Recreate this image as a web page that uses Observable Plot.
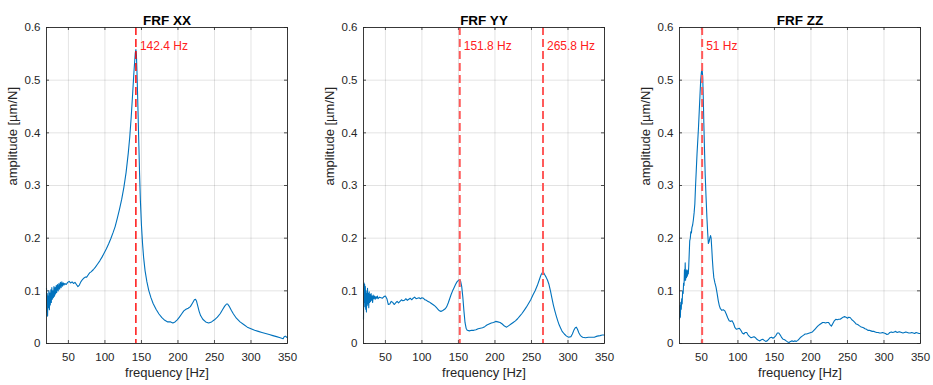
<!DOCTYPE html>
<html><head><meta charset="utf-8">
<script src="https://cdn.jsdelivr.net/npm/d3@7"></script>
<script src="https://cdn.jsdelivr.net/npm/@observablehq/plot@0.6"></script>
<style>
body{margin:0;background:#fff}
#wrap{position:relative;width:933px;height:385px;overflow:hidden}
#wrap svg{position:absolute;top:0}
</style>
</head><body><div id="wrap"></div>
<script>
// ---- data ----
const titles = ["FRF XX", "FRF YY", "FRF ZZ"];
const xTicks = [50, 100, 150, 200, 250, 300, 350];
const yTicks = [0, 0.1, 0.2, 0.3, 0.4, 0.5, 0.6];
const xLabel = "frequency [Hz]";
const yLabel = "amplitude [µm/N]";

const xxPeaks = [142.4];
const yyPeaks = [151.8, 265.8];
const zzPeaks = [51];

const xxFreq = [20,20.5,21,21.5,22,22.7,23.3,24,24.6,25.2,26,26.6,27.3,28,28.7,29.4,30.2,31,31.8,32.5,33.3,34,35,36,37,38,39,40,41,42,43,44,45,47,49,51,53,55,57,59,61,63,65,67,69,71,73,75,77,79,81,84,87,90,93,96,99,102,105,108,111,114,117,120,123,126,129,132,134,136,138,139.5,140.7,141.6,142.4,143.1,143.8,144.6,145.5,146.5,147.5,148.6,150,151.5,153,155,157.5,160,163,166,170,174,178,182,186,190,193,196,199,202,205,208,211,214,217,220,222.5,224,225.5,227,229,231,234,238,242,246,250,254,258,261,264,266.5,268,270,273,276,280,285,290,295,300,305,310,315,320,325,330,335,340,344,345.5,347,349,350];
const xxAmp = [0.105,0.06,0.095,0.052,0.09,0.068,0.1,0.064,0.096,0.073,0.102,0.078,0.106,0.084,0.1,0.087,0.108,0.09,0.106,0.094,0.11,0.097,0.112,0.1,0.114,0.103,0.116,0.106,0.117,0.109,0.115,0.111,0.114,0.112,0.116,0.118,0.115,0.117,0.114,0.116,0.112,0.108,0.111,0.117,0.121,0.124,0.126,0.126,0.13,0.134,0.136,0.14,0.145,0.151,0.157,0.164,0.172,0.18,0.189,0.199,0.21,0.222,0.238,0.255,0.274,0.297,0.325,0.362,0.392,0.43,0.475,0.51,0.535,0.552,0.558,0.548,0.52,0.48,0.43,0.375,0.32,0.27,0.225,0.19,0.163,0.138,0.117,0.101,0.087,0.076,0.065,0.056,0.049,0.044,0.041,0.041,0.039,0.041,0.045,0.05,0.056,0.062,0.065,0.067,0.07,0.077,0.083,0.084,0.08,0.072,0.061,0.053,0.046,0.041,0.039,0.041,0.045,0.05,0.057,0.064,0.071,0.075,0.075,0.071,0.063,0.056,0.048,0.041,0.036,0.031,0.028,0.025,0.023,0.021,0.019,0.017,0.015,0.013,0.011,0.009,0.013,0.014,0.012,0.011];

const yyFreq = [20,20.4,20.8,21.2,21.6,22,22.5,23,23.5,24,24.5,25,25.5,26,26.6,27.2,27.8,28.4,29,29.7,30.4,31.1,31.8,32.5,33.3,34,35,36,37,38,39,40,42,44,46,48,50,52,54,56,58,60,62,64,66,68,70,72,74,76,78,80,82,84,86,88,90,92,94,96,98,100,102,104,106,108,110,112,114,116,118,120,122,124,126,128,130,132,134,136,138,140,142,144,146,148,150,151.8,153,154.5,156,157.5,159,160.5,162,165,168,171,174,177,180,183,186,189,192,195,198,201,204,207,210,213,216,219,222,225,228,231,234,237,240,243,246,249,252,255,258,261,263,265,266.5,268,270,272,274,276,278,280,282,284,286,288,290,292,295,298,301,304,306,308,310,311.5,313,315,317,320,324,328,332,336,340,344,347,350];
const yyAmp = [0.046,0.1,0.115,0.078,0.112,0.07,0.108,0.065,0.1,0.06,0.095,0.072,0.105,0.075,0.095,0.068,0.098,0.078,0.093,0.08,0.095,0.082,0.09,0.078,0.092,0.085,0.09,0.084,0.089,0.086,0.09,0.085,0.088,0.087,0.086,0.089,0.09,0.085,0.074,0.075,0.08,0.078,0.074,0.077,0.08,0.077,0.08,0.083,0.081,0.082,0.085,0.082,0.084,0.086,0.083,0.086,0.088,0.085,0.086,0.087,0.085,0.087,0.086,0.083,0.082,0.08,0.079,0.077,0.075,0.073,0.071,0.068,0.065,0.062,0.061,0.062,0.064,0.066,0.07,0.077,0.085,0.093,0.1,0.106,0.112,0.117,0.12,0.121,0.118,0.108,0.088,0.062,0.04,0.029,0.025,0.024,0.025,0.025,0.026,0.028,0.029,0.03,0.032,0.035,0.037,0.039,0.04,0.042,0.041,0.04,0.037,0.033,0.031,0.034,0.037,0.04,0.043,0.047,0.052,0.057,0.063,0.069,0.076,0.083,0.092,0.1,0.11,0.122,0.13,0.135,0.135,0.131,0.126,0.12,0.112,0.1,0.086,0.073,0.062,0.052,0.043,0.035,0.029,0.023,0.018,0.014,0.012,0.013,0.018,0.025,0.03,0.031,0.027,0.02,0.015,0.012,0.011,0.012,0.012,0.012,0.014,0.015,0.016,0.016];

const zzFreq = [20,20.6,21.2,21.8,22.4,23,23.6,24.3,25,25.6,26.2,26.8,27.3,27.8,28.3,28.9,29.5,30.1,30.7,31.4,32,32.6,33.3,34,34.8,35.5,36.3,37,38,39,40,41,42,43,44,45,46,47,48,49,50,51,51.8,52.5,53.3,54.2,55.2,56.3,57.5,58.6,59.5,60.5,61.5,62.5,63.3,64.2,65,66,67,68.5,70,71.5,73,74.5,76,78,80,82,84,86,88,90,92,94,96,98,100,102,104,106,108,110,112,114,116,118,120,122,124,126,128,130,132,134,136,138,140,142,144,146,148,150,152,154,156,158,160,162,164,166,168,170,172,174,176,178,180,182,184,186,188,190,192,194,196,198,200,202,204,206,208,210,212,214,216,218,220,222,224,226,228,230,232,234,236,238,240,242,244,246,248,250,252,254,256,258,260,262,264,266,268,270,272,274,276,278,280,282,284,286,288,290,292,294,296,298,300,302,304,306,308,310,312,314,316,318,320,322,324,326,328,330,332,334,336,338,340,342,344,346,348,350];
const zzAmp = [0.046,0.072,0.05,0.078,0.065,0.085,0.075,0.1,0.095,0.115,0.11,0.14,0.12,0.153,0.12,0.138,0.125,0.14,0.128,0.138,0.132,0.145,0.17,0.195,0.2,0.212,0.21,0.22,0.225,0.235,0.248,0.265,0.3,0.33,0.36,0.385,0.41,0.44,0.47,0.5,0.515,0.52,0.505,0.47,0.42,0.37,0.32,0.28,0.24,0.21,0.19,0.193,0.2,0.205,0.2,0.18,0.16,0.14,0.125,0.115,0.107,0.095,0.082,0.072,0.066,0.063,0.064,0.062,0.056,0.049,0.043,0.042,0.043,0.038,0.03,0.027,0.028,0.029,0.025,0.02,0.018,0.021,0.021,0.016,0.013,0.011,0.012,0.013,0.011,0.008,0.006,0.005,0.007,0.008,0.006,0.004,0.005,0.008,0.011,0.012,0.01,0.012,0.015,0.02,0.02,0.016,0.011,0.008,0.007,0.005,0.003,0.002,0.004,0.005,0.004,0.005,0.004,0.006,0.009,0.012,0.014,0.016,0.018,0.018,0.019,0.02,0.021,0.022,0.025,0.028,0.031,0.034,0.036,0.038,0.04,0.04,0.039,0.04,0.04,0.036,0.033,0.038,0.043,0.046,0.045,0.046,0.046,0.048,0.05,0.051,0.05,0.048,0.05,0.049,0.045,0.043,0.04,0.037,0.036,0.034,0.032,0.031,0.03,0.028,0.027,0.025,0.025,0.024,0.023,0.023,0.022,0.021,0.021,0.02,0.02,0.021,0.02,0.019,0.017,0.018,0.021,0.022,0.021,0.022,0.023,0.021,0.022,0.022,0.021,0.02,0.021,0.022,0.021,0.02,0.02,0.021,0.02,0.019,0.021,0.02,0.019,0.019];

// ---- layout ----
const H = 385, MT = 27, MB = 42;
const panels = [
  {title: titles[0], freq: xxFreq, amp: xxAmp, peaks: xxPeaks, left: 0,   ml: 46, w: 310, red: "#ff0000", sw: 1.4},
  {title: titles[1], freq: yyFreq, amp: yyAmp, peaks: yyPeaks, left: 310, ml: 53, w: 310, red: "#ff5a5a", sw: 2},
  {title: titles[2], freq: zzFreq, amp: zzAmp, peaks: zzPeaks, left: 620, ml: 59, w: 313, red: "#ff5a5a", sw: 2}
];
const FW = 241;
const font = "'Liberation Sans', Arial, Helvetica, sans-serif";
const axisColor = "#262626";
const blue = "#0072BD";

const wrap = document.getElementById("wrap");
for (const p of panels) {
  const mr = p.w - p.ml - FW;
  const frameH = H - MT - MB;
  const idx = d3.range(p.freq.length);
  const svg = Plot.plot({
    width: p.w, height: H,
    marginLeft: p.ml, marginRight: mr, marginTop: MT, marginBottom: MB,
    style: {fontFamily: font, fontSize: "11.5px", color: axisColor, background: "transparent"},
    x: {domain: [20, 350]},
    y: {domain: [0, 0.6]},
    marks: [
      Plot.gridX(xTicks, {stroke: "#000", strokeOpacity: 0.11}),
      Plot.gridY(yTicks, {stroke: "#000", strokeOpacity: 0.11}),
      Plot.ruleX(xTicks, {x: d => d, insetTop: frameH - 3, stroke: axisColor, strokeWidth: 0.8}),
      Plot.ruleX(xTicks, {x: d => d, insetBottom: frameH - 3, stroke: axisColor, strokeWidth: 0.8}),
      Plot.ruleY(yTicks, {y: d => d, insetRight: FW - 3, stroke: axisColor, strokeWidth: 0.8}),
      Plot.ruleY(yTicks, {y: d => d, insetLeft: FW - 3, stroke: axisColor, strokeWidth: 0.8}),
      Plot.line(idx, {x: i => p.freq[i], y: i => p.amp[i], stroke: blue, strokeWidth: 1.1}),
      Plot.ruleX(p.peaks, {x: d => d, stroke: p.red, strokeWidth: p.sw, strokeDasharray: "8,4"}),
      Plot.text(p.peaks, {x: d => d, frameAnchor: "top", dy: 14, dx: 4, textAnchor: "start",
        text: d => `${d} Hz`, fill: "#ff2020", fontSize: 12}),
      Plot.frame({stroke: axisColor, strokeWidth: 0.9}),
      Plot.axisX(xTicks, {tickSize: 0, tickPadding: 9, fontSize: 11.5, fill: axisColor, label: null}),
      Plot.axisY(yTicks, {tickSize: 0, tickPadding: 6, fontSize: 11.5, fill: axisColor, label: null,
        tickFormat: d => d === 0 ? "0" : d3.format(".1f")(d)}),
      Plot.text([xLabel], {frameAnchor: "bottom", dy: 33, fontSize: 13, fill: axisColor}),
      Plot.text([yLabel], {frameAnchor: "left", dx: -34, rotate: -90, fontSize: 13, fill: axisColor}),
      Plot.text([p.title], {frameAnchor: "top", dy: -12, fontWeight: "bold", fontSize: 13.5, fill: "#000"})
    ]
  });
  svg.style.left = p.left + "px";
  wrap.appendChild(svg);
}
</script>
</body></html>
